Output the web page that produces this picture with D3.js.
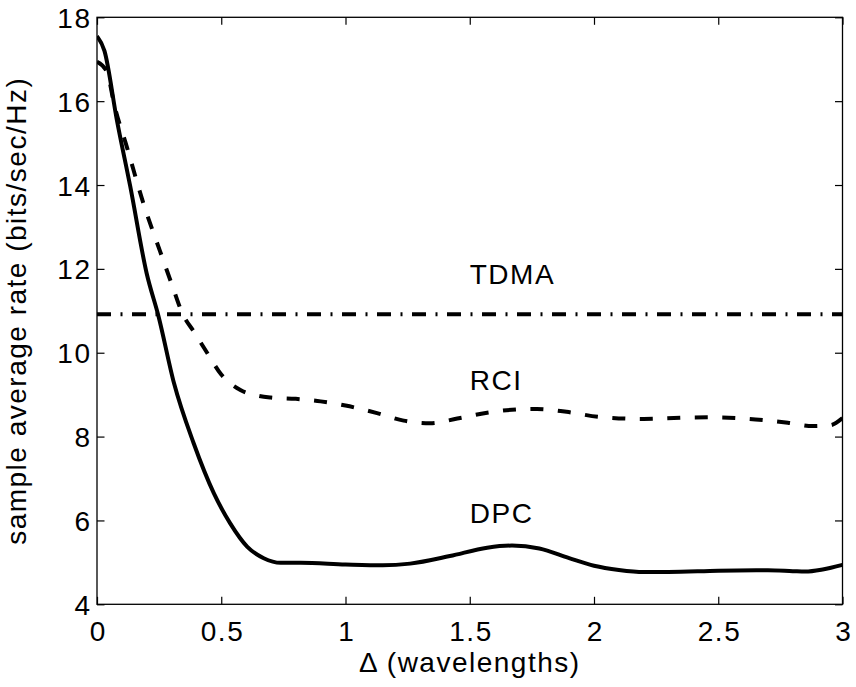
<!DOCTYPE html>
<html>
<head>
<meta charset="utf-8">
<script src="https://cdn.jsdelivr.net/npm/d3@7"></script>
<style>
  body { margin: 0; background: #fff; }
  text { font-family: "Liberation Sans", Arial, Helvetica, sans-serif; fill: #000; }
</style>
</head>
<body>
<svg id="chart" width="856" height="687"></svg>
<script>
// ---- data ----
const dpcX = [0, 0.03, 0.08, 0.134, 0.2, 0.248, 0.31, 0.389, 0.47, 0.536, 0.605, 0.671, 0.739, 0.82, 1.0, 1.15, 1.26, 1.42, 1.57, 1.67, 1.78, 1.9, 2.0, 2.1, 2.2, 2.3, 2.5, 2.7, 2.8, 2.85, 2.92, 3.0];
const dpcY = [17.55, 17.2, 15.55, 13.96, 11.89, 10.86, 9.27, 7.84, 6.65, 5.93, 5.37, 5.10, 4.99, 4.99, 4.95, 4.93, 4.97, 5.15, 5.35, 5.40, 5.33, 5.10, 4.92, 4.82, 4.77, 4.77, 4.80, 4.81, 4.79, 4.78, 4.83, 4.94];

const rciX = [0, 0.04, 0.07, 0.12, 0.19, 0.255, 0.3, 0.345, 0.39, 0.443, 0.5, 0.577, 0.65, 0.7, 0.8, 0.9, 1.0, 1.127, 1.234, 1.34, 1.45, 1.58, 1.7, 1.77, 1.89, 2.02, 2.2, 2.36, 2.49, 2.65, 2.78, 2.88, 2.95, 3.0];
const rciY = [16.94, 16.7, 15.9, 14.91, 13.5, 12.4, 11.65, 10.92, 10.5, 10.0, 9.48, 9.11, 8.97, 8.93, 8.90, 8.84, 8.74, 8.56, 8.38, 8.32, 8.43, 8.58, 8.65, 8.66, 8.59, 8.47, 8.42, 8.45, 8.46, 8.41, 8.33, 8.25, 8.27, 8.44];

const tdmaX = [0, 3];
const tdmaY = [10.92, 10.92];

const xTicks = [0, 0.5, 1, 1.5, 2, 2.5, 3];
const xTickLabels = ["0", "0.5", "1", "1.5", "2", "2.5", "3"];
const yTicks = [4, 6, 8, 10, 12, 14, 16, 18];
const yTickLabels = ["4", "6", "8", "10", "12", "14", "16", "18"];

const annotations = [
  { text: "TDMA", x: 1.5, y: 11.65 },
  { text: "RCI", x: 1.5, y: 9.11 },
  { text: "DPC", x: 1.5, y: 5.94 }
];
const xLabel = "\u0394 (wavelengths)";
const yLabel = "sample average rate (bits/sec/Hz)";

// ---- layout ----
const L = 97, R = 842.5, T = 17.3, B = 604.3;
const svg = d3.select("#chart");
const x = d3.scaleLinear().domain([0, 3]).range([L, R]);
const y = d3.scaleLinear().domain([4, 18]).range([B, T]);

svg.append("defs").append("clipPath").attr("id", "clip")
  .append("rect").attr("x", L).attr("y", T).attr("width", R - L).attr("height", B - T);

const fontSize = 28;
const spacing = "1.5px";
const tickLen = 7.5;

const fmtX = (d, i) => xTickLabels[i];
const fmtY = (d, i) => yTickLabels[i];

const gx = svg.append("g").attr("transform", `translate(0,${B})`)
  .call(d3.axisBottom(x).tickValues(xTicks).tickFormat(fmtX).tickSizeInner(-tickLen).tickSizeOuter(0).tickPadding(17));
const gxTop = svg.append("g").attr("transform", `translate(0,${T})`)
  .call(d3.axisTop(x).tickValues(xTicks).tickFormat("").tickSizeInner(-tickLen).tickSizeOuter(0));
const gy = svg.append("g").attr("transform", `translate(${L},0)`)
  .call(d3.axisLeft(y).tickValues(yTicks).tickFormat(fmtY).tickSizeInner(-tickLen).tickSizeOuter(0).tickPadding(5.5));
const gyR = svg.append("g").attr("transform", `translate(${R},0)`)
  .call(d3.axisRight(y).tickValues(yTicks).tickFormat("").tickSizeInner(-tickLen).tickSizeOuter(0));

[gx, gxTop, gy, gyR].forEach(g => {
  g.selectAll(".domain").remove();
  g.selectAll(".tick line").attr("stroke", "#000").attr("stroke-width", 1.2);
  g.selectAll("text").style("font-size", fontSize + "px").attr("fill", "#000")
    .style("letter-spacing", spacing)
    .style("font-family", '"Liberation Sans", Arial, sans-serif');
});
gy.selectAll("text").attr("dy", "0.36em");
gx.selectAll("text").attr("dx", "0.75px");

// frame
svg.append("rect").attr("x", L).attr("y", T).attr("width", R - L).attr("height", B - T)
  .attr("fill", "none").attr("stroke", "#000").attr("stroke-width", 1.3);

// lines
const line = d3.line().x(d => x(d[0])).y(d => y(d[1])).curve(d3.curveMonotoneX);
const plot = svg.append("g").attr("clip-path", "url(#clip)");

plot.append("path").datum(d3.zip(tdmaX, tdmaY)).attr("d", line)
  .attr("fill", "none").attr("stroke", "#000").attr("stroke-width", 4)
  .attr("stroke-dasharray", "14,9.5,2,9.5");

plot.append("path").datum(d3.zip(rciX, rciY)).attr("d", line)
  .attr("fill", "none").attr("stroke", "#000").attr("stroke-width", 4)
  .attr("stroke-dasharray", "13,14.5");

plot.append("path").datum(d3.zip(dpcX, dpcY)).attr("d", line)
  .attr("fill", "none").attr("stroke", "#000").attr("stroke-width", 4)
  .attr("stroke-linejoin", "round");

// annotations
svg.selectAll(".ann").data(annotations).enter().append("text")
  .attr("class", "ann")
  .attr("x", d => x(d.x))
  .attr("y", d => y(d.y))
  .style("font-size", "28px")
  .style("letter-spacing", spacing)
  .text(d => d.text);

// axis labels
svg.append("text")
  .attr("x", (L + R) / 2).attr("y", 672)
  .attr("text-anchor", "middle")
  .style("font-size", "28px")
  .style("letter-spacing", spacing)
  .text(xLabel);

svg.append("text")
  .attr("transform", `translate(26,${(T + B) / 2}) rotate(-90)`)
  .attr("text-anchor", "middle")
  .style("font-size", "28px")
  .style("letter-spacing", spacing)
  .text(yLabel);
</script>
</body>
</html>
